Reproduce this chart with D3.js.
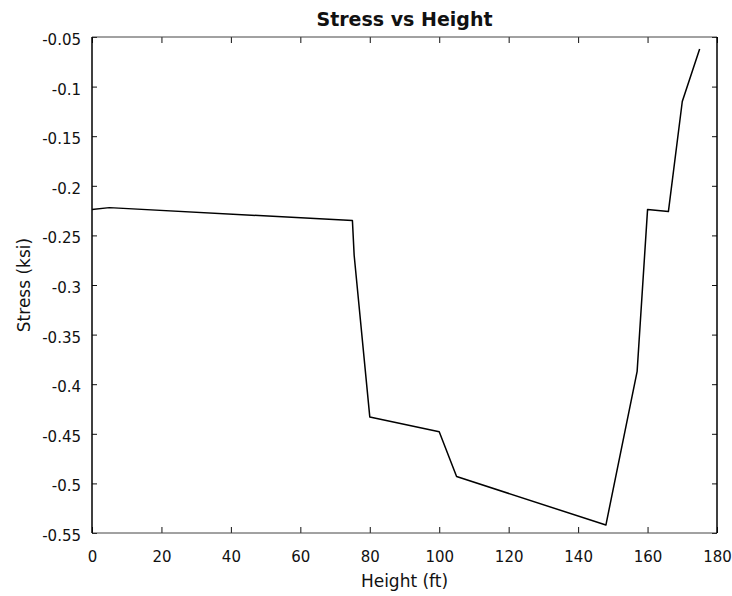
<!DOCTYPE html>
<html>
<head>
<meta charset="utf-8">
<script src="https://cdn.jsdelivr.net/npm/d3@7"></script>
<style>
  body { margin: 0; background: #fff; }
  svg { display: block; font-family: "DejaVu Sans", sans-serif; }
</style>
</head>
<body>
<svg></svg>
<script>
// Height (ft) and stress (ksi)
const heights = [0, 5, 75, 75.5, 80, 100, 105, 148, 157, 160, 166, 170, 175];
const stress = [-0.224, -0.222, -0.235, -0.27, -0.433, -0.448, -0.493, -0.542, -0.387, -0.224, -0.226, -0.115, -0.062];

const xTicks = [0, 20, 40, 60, 80, 100, 120, 140, 160, 180];
const yTicks = [-0.05, -0.1, -0.15, -0.2, -0.25, -0.3, -0.35, -0.4, -0.45, -0.5, -0.55];
const yTickLabels = ["-0.05", "-0.1", "-0.15", "-0.2", "-0.25", "-0.3", "-0.35", "-0.4", "-0.45", "-0.5", "-0.55"];

const titleText = "Stress vs Height";
const xLabel = "Height (ft)";
const yLabel = "Stress (ksi)";

const width = 732;
const height = 596;
const margin = { top: 37, right: 15, bottom: 63, left: 92 };
const innerWidth = width - margin.left - margin.right;
const innerHeight = height - margin.top - margin.bottom;

const data = heights.map((h, i) => ({ h: h, s: stress[i] }));

const xScale = d3.scaleLinear().domain([0, 180]).range([0, innerWidth]);
const yScale = d3.scaleLinear().domain([-0.55, -0.05]).range([innerHeight, 0]);

const svg = d3.select("svg")
    .attr("width", width)
    .attr("height", height);

const g = svg.append("g")
    .attr("transform", `translate(${margin.left},${margin.top})`);

// assi con tacche verso l'interno, su tutti e quattro i lati
function styleAxis(sel) {
    sel.attr("font-size", 15).attr("font-family", "DejaVu Sans, sans-serif");
    sel.select(".domain").remove();
    sel.selectAll(".tick line").attr("stroke", "#111").attr("stroke-width", 1);
    sel.selectAll(".tick text").attr("fill", "#111");
}

function noLabels(sel) {
    sel.selectAll(".tick text").remove();
}

g.append("g")
    .attr("transform", `translate(0,${innerHeight})`)
    .call(d3.axisBottom(xScale).tickValues(xTicks).tickSizeInner(-6).tickSizeOuter(0).tickPadding(18))
    .call(styleAxis);

g.append("g")
    .call(d3.axisTop(xScale).tickValues(xTicks).tickSizeInner(-6).tickSizeOuter(0))
    .call(styleAxis)
    .call(noLabels);

g.append("g")
    .call(d3.axisLeft(yScale).tickValues(yTicks).tickSizeInner(-5).tickSizeOuter(0).tickPadding(11)
        .tickFormat((d, i) => yTickLabels[i]))
    .call(styleAxis)
    .selectAll(".tick text").attr("dy", "0.5em");

g.append("g")
    .attr("transform", `translate(${innerWidth},0)`)
    .call(d3.axisRight(yScale).tickValues(yTicks).tickSizeInner(-5).tickSizeOuter(0))
    .call(styleAxis)
    .call(noLabels);

// cornice
g.append("line").attr("x1", 0).attr("x2", innerWidth).attr("y1", 0).attr("y2", 0)
    .attr("stroke", "#444").attr("stroke-width", 1);
g.append("line").attr("x1", 0).attr("x2", innerWidth).attr("y1", innerHeight).attr("y2", innerHeight)
    .attr("stroke", "#444").attr("stroke-width", 1);
g.append("line").attr("x1", 0).attr("x2", 0).attr("y1", 0).attr("y2", innerHeight)
    .attr("stroke", "#000").attr("stroke-width", 1.5);
g.append("line").attr("x1", innerWidth).attr("x2", innerWidth).attr("y1", 0).attr("y2", innerHeight)
    .attr("stroke", "#000").attr("stroke-width", 1.5);

// linea dei dati
const line = d3.line()
    .x(d => xScale(d.h))
    .y(d => yScale(d.s));

g.append("path")
    .datum(data)
    .attr("fill", "none")
    .attr("stroke", "#000")
    .attr("stroke-width", 1.5)
    .attr("stroke-linejoin", "round")
    .attr("d", line);

// titolo ed etichette
svg.append("text")
    .attr("x", margin.left + innerWidth / 2)
    .attr("y", 26)
    .attr("text-anchor", "middle")
    .attr("font-size", 19)
    .attr("font-weight", "bold")
    .attr("fill", "#111")
    .text(titleText);

svg.append("text")
    .attr("x", margin.left + innerWidth / 2)
    .attr("y", 587)
    .attr("text-anchor", "middle")
    .attr("font-size", 17)
    .attr("fill", "#111")
    .text(xLabel);

svg.append("text")
    .attr("transform", `translate(30,${margin.top + innerHeight / 2}) rotate(-90)`)
    .attr("text-anchor", "middle")
    .attr("font-size", 17)
    .attr("fill", "#111")
    .text(yLabel);
</script>
</body>
</html>
